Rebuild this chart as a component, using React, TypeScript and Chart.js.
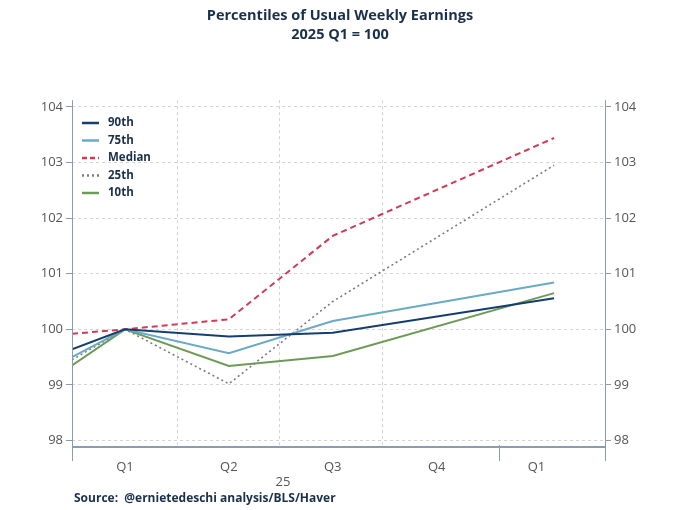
import React, { useEffect, useRef } from "react";
import { Chart, registerables } from "chart.js";
Chart.register(...registerables);

const xPos = [0.49, 1, 2, 3, 5.13];
const p90 = [99.64, 100, 99.87, 99.94, 100.56];
const p75 = [99.5, 100, 99.57, 100.15, 100.84];
const median = [99.92, 100, 100.18, 101.68, 103.44];
const p25 = [99.45, 100, 99.02, 100.5, 102.95];
const p10 = [99.35, 100, 99.34, 99.52, 100.65];
const quarterLabels: Record<number, string> = { 1: "Q1", 2: "Q2", 3: "Q3", 4: "Q4", 4.96: "Q1" };
const yTicks = [98, 99, 100, 101, 102, 103, 104];

const series = [
  { label: "90th", data: p90, color: "#153e6e", dash: [] as number[], width: 2 },
  { label: "75th", data: p75, color: "#6aaac4", dash: [] as number[], width: 2 },
  { label: "Median", data: median, color: "#d23a55", dash: [6, 4], width: 2 },
  { label: "25th", data: p25, color: "#7b7b7b", dash: [2, 3], width: 1.6 },
  { label: "10th", data: p10, color: "#6e9a58", dash: [] as number[], width: 2 },
];

const FONT = "'Open Sans', 'Noto Sans', sans-serif";

export default function App() {
  const ref = useRef<HTMLCanvasElement>(null);
  useEffect(() => {
    const extras = {
      id: "extras",
      afterDraw(c: any) {
        const ctx = c.ctx;
        const a = c.chartArea;
        const xs = c.scales.x;
        ctx.save();
        ctx.strokeStyle = "#8b9bb0";
        ctx.lineWidth = 1;
        // axis lines
        ctx.beginPath();
        ctx.moveTo(a.left + 0.5, a.top);
        ctx.lineTo(a.left + 0.5, a.bottom);
        ctx.moveTo(a.right + 0.5, a.top);
        ctx.lineTo(a.right + 0.5, a.bottom);
        ctx.stroke();
        ctx.lineWidth = 2;
        ctx.beginPath();
        ctx.moveTo(a.left, a.bottom + 2);
        ctx.lineTo(a.right + 1, a.bottom + 2);
        ctx.stroke();
        ctx.lineWidth = 1;
        for (const v of [xs.min, 4.6, xs.max]) {
          const px = Math.round(xs.getPixelForValue(v)) + 0.5;
          ctx.beginPath();
          ctx.moveTo(px, a.bottom);
          ctx.lineTo(px, a.bottom + 16);
          ctx.stroke();
        }
        ctx.fillStyle = "#555";
        ctx.font = `13px ${FONT}`;
        ctx.textAlign = "center";
        ctx.textBaseline = "middle";
        ctx.fillText("25", xs.getPixelForValue(2.52), a.bottom + 37);
        ctx.textAlign = "left";
        ctx.fillStyle = "#1a2f4a";
        ctx.font = `bold 12px ${FONT}`;
        ctx.fillText("Source:  @ernietedeschi analysis/BLS/Haver", 74, 499);
        let y = 123;
        for (const s of series) {
          ctx.strokeStyle = s.color;
          ctx.lineWidth = 2.5;
          ctx.setLineDash(s.dash.length ? (s.dash[0] > 3 ? [5, 3] : [2, 3]) : []);
          ctx.beginPath();
          ctx.moveTo(82, y);
          ctx.lineTo(99, y);
          ctx.stroke();
          ctx.setLineDash([]);
          ctx.fillStyle = "#1a2f4a";
          ctx.font = `bold 11.5px ${FONT}`;
          ctx.fillText(s.label, 108, y);
          y += 17.5;
        }
        ctx.restore();
      },
    };
    const yCommon = (pos: "left" | "right") => ({
      type: "linear" as const,
      position: pos,
      min: 97.92,
      max: 104.12,
      afterBuildTicks: (s: any) => { s.ticks = yTicks.map((v) => ({ value: v })); },
      afterFit: (s: any) => { s.width = pos === "left" ? 72 : 75; },
      grid: {
        display: true,
        drawOnChartArea: pos === "left",
        color: "#d4d4d4",
        drawTicks: true,
        tickLength: 6,
        tickColor: "#8b9bb0",
      },
      border: { display: false, dash: [3, 3] },
      ticks: { color: "#555", font: { size: 13, family: FONT }, padding: 3 },
    });
    const chart = new Chart(ref.current!, {
      type: "line",
      data: {
        datasets: series.map((s) => ({
          label: s.label,
          data: s.data.map((v, i) => ({ x: xPos[i], y: v })),
          borderColor: s.color,
          borderDash: s.dash,
          borderWidth: s.width,
          pointRadius: 0,
          tension: 0,
        })),
      },
      options: {
        animation: false,
        responsive: false,
        plugins: {
          legend: { display: false },
          tooltip: { enabled: false },
          title: {
            display: true,
            text: ["Percentiles of Usual Weekly Earnings", "2025 Q1 = 100"],
            color: "#1a2f4a",
            font: { size: 14.5, weight: "bold", family: FONT, lineHeight: 1.35 },
            padding: { top: 6, bottom: 55 },
          },
        },
        scales: {
          x: {
            type: "linear",
            min: 0.49,
            max: 5.62,
            afterBuildTicks: (s: any) => {
              s.ticks = [1, 1.51, 2, 2.49, 3, 3.48, 4, 4.96].map((v) => ({ value: v }));
            },
            afterFit: (s: any) => { s.height = 65; },
            grid: {
              color: (c: any) => ([1.51, 2.49, 3.48].includes(c.tick?.value) ? "#d4d4d4" : "transparent"),
              drawTicks: false,
            },
            border: { display: false, dash: [3, 3] },
            ticks: {
              color: "#555",
              font: { size: 13, family: FONT },
              padding: 14,
              autoSkip: false,
              maxRotation: 0,
              callback: (v: any) => quarterLabels[Number(v)] ?? "",
            },
          },
          y: yCommon("left"),
          y2: yCommon("right"),
        },
      },
      plugins: [extras],
    } as any);
    return () => chart.destroy();
  }, []);
  return (
    <div style={{ position: "fixed", left: 0, top: 0, width: 680, height: 510, background: "#fff" }}>
      <canvas ref={ref} width={680} height={510} />
    </div>
  );
}
